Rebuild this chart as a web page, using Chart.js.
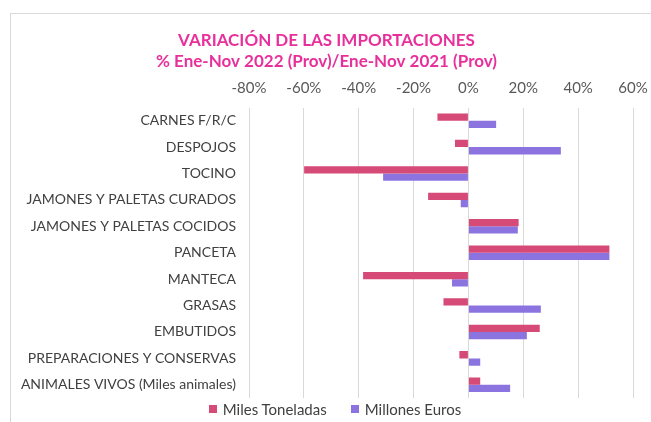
<!doctype html>
<html lang="es">
<head>
    <meta charset="utf-8">
    <title>Variación de las importaciones</title>
    <style>
        body, html { margin: 0; padding: 0; background: #fff; overflow: hidden; }
        .frame {
            position: absolute; left: 10px; top: 13px; width: 700px; height: 500px;
            border-left: 1px solid #d9d9d9; border-top: 1px solid #d9d9d9;
        }
        .chart-container { position: absolute; left: 0; top: 0; width: 651px; height: 422px; }
        #legend {
            position: absolute; left: 0; top: 400px; width: 670px; height: 18px;
            display: flex; justify-content: center; align-items: center;
            font-family: Lato, "Open Sans", sans-serif; font-size: 15px; color: #404040;
        }
        #legend .item { display: flex; align-items: center; margin: 0 12px; }
        #legend .box { width: 8px; height: 8px; margin-right: 6px; }
    </style>
    <script src="https://cdn.jsdelivr.net/npm/chart.js@4/dist/chart.umd.min.js"></script>
</head>
<body>
    <div class="frame"></div>
    <div class="chart-container"><canvas id="chart"></canvas></div>
    <div id="legend"></div>
    <script>
        const categories = [
            "CARNES F/R/C", "DESPOJOS", "TOCINO", "JAMONES Y PALETAS CURADOS",
            "JAMONES Y PALETAS COCIDOS", "PANCETA", "MANTECA", "GRASAS",
            "EMBUTIDOS", "PREPARACIONES Y CONSERVAS", "ANIMALES VIVOS (Miles animales)"
        ];
        const milesToneladas = [-11.3, -4.9, -59.9, -14.7, 18.3, 51.4, -38.4, -9.1, 26.0, -3.3, 4.3];
        const millonesEuros = [10.1, 33.7, -31.1, -2.8, 18.0, 51.4, -6.0, 26.4, 21.3, 4.3, 15.2];
        const xTicks = [-80, -60, -40, -20, 0, 20, 40, 60];

        const font = "Lato, 'Open Sans', sans-serif";

        const chart = new Chart(document.getElementById("chart"), {
            type: "bar",
            data: {
                labels: categories,
                datasets: [{
                    label: "Miles Toneladas",
                    data: milesToneladas,
                    backgroundColor: "#d64a77",
                    categoryPercentage: 0.55,
                    barPercentage: 1,
                }, {
                    label: "Millones Euros",
                    data: millonesEuros,
                    backgroundColor: "#8b74e0",
                    categoryPercentage: 0.55,
                    barPercentage: 1,
                }]
            },
            options: {
                indexAxis: "y",
                responsive: true,
                maintainAspectRatio: false,
                animation: false,
                layout: { padding: { left: 20, right: 18, top: 30, bottom: 24 } },
                scales: {
                    x: {
                        position: "top",
                        min: -80,
                        max: 60,
                        afterBuildTicks: (scale) => {
                            scale.ticks = xTicks.map(v => ({ value: v }));
                        },
                        afterFit: (scale) => {
                            scale.paddingLeft = 0;
                            scale.paddingRight = 0;
                        },
                        ticks: {
                            color: "#595959",
                            font: { family: font, size: 15 },
                            padding: 10,
                            callback: (v) => v + "%",
                        },
                        grid: { color: "#d9d9d9", lineWidth: 1, drawTicks: false },
                        border: { display: false },
                    },
                    y: {
                        afterFit: (scale) => { scale.width = 229; },
                        ticks: {
                            color: "#404040",
                            font: { family: font, size: 14 },
                            padding: 5,
                        },
                        grid: { display: false },
                        border: { display: false },
                    },
                },
                plugins: {
                    title: {
                        display: true,
                        text: ["VARIACIÓN DE LAS IMPORTACIONES", "% Ene-Nov 2022 (Prov)/Ene-Nov 2021 (Prov)"],
                        color: "#e8309c",
                        font: { family: font, size: 17, weight: "bold", lineHeight: 1.25 },
                        padding: { top: 0, bottom: -3 },
                    },
                    legend: { display: false },
                    tooltip: { enabled: false },
                },
            },
        });

        // legend drawn as html so it can sit where the original one is
        const legend = document.getElementById("legend");
        chart.data.datasets.forEach((ds) => {
            const item = document.createElement("div");
            item.className = "item";
            item.innerHTML = '<span class="box" style="background:' + ds.backgroundColor + '"></span>' + ds.label;
            legend.appendChild(item);
        });
    </script>
</body>
</html>
